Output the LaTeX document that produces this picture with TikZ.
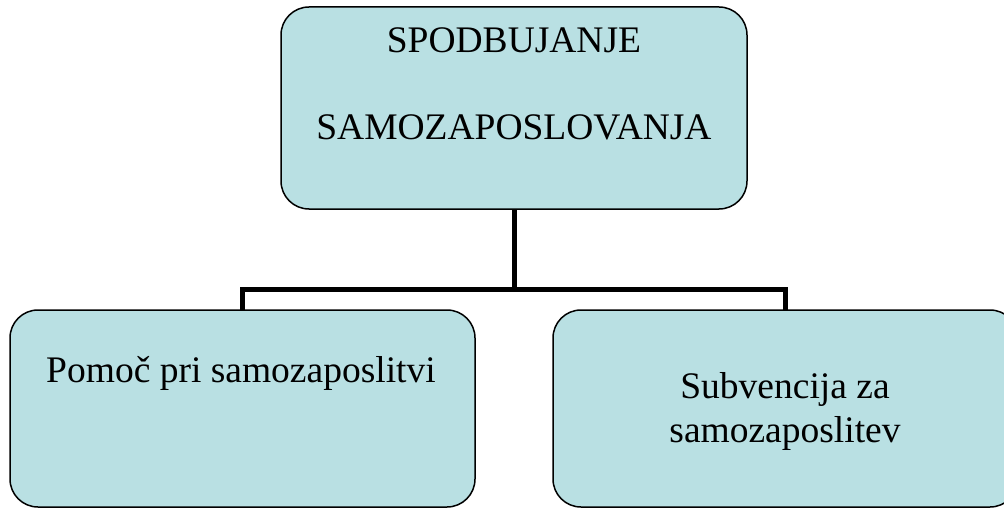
\documentclass[tikz,border=0pt]{standalone}
\usepackage{fontspec}
\setmainfont{Liberation Serif}
\definecolor{boxfill}{RGB}{185,224,227}
\begin{document}
\begin{tikzpicture}[x=1pt,y=-1pt,
  box/.style={draw=black,fill=boxfill,line width=1.5pt,rounded corners=28pt,inner sep=0pt,outer sep=0pt},
  lbl/.style={anchor=base,inner sep=0pt,font=\fontsize{37.5}{44}\selectfont},
  conn/.style={draw=black,line width=5pt}]
\useasboundingbox (0,0) rectangle (1004,508);
\clip (0,0) rectangle (1004,508);
\node[box,minimum width=466pt,minimum height=202pt] (top) at (514,108) {};
\node[box,minimum width=465pt,minimum height=197pt] (left) at (242.5,408.5) {};
\node[box,minimum width=465pt,minimum height=197pt] (right) at (785.5,408.5) {};
\draw[conn] (top.south) -- ++(0,80) coordinate (j);
\draw[conn] (left.north) |- (j) -| (right.north);
\node[lbl] (t1) at (514,53) {SPODBUJANJE};
\node[lbl] (t2) at (514,140) {SAMOZAPOSLOVANJA};
\node[lbl] (l1) at (241,382) {Pomoč pri samozaposlitvi};
\node[lbl] (r1) at (785,398) {Subvencija za};
\node[lbl] (r2) at (785,442) {samozaposlitev};
\end{tikzpicture}
\end{document}
